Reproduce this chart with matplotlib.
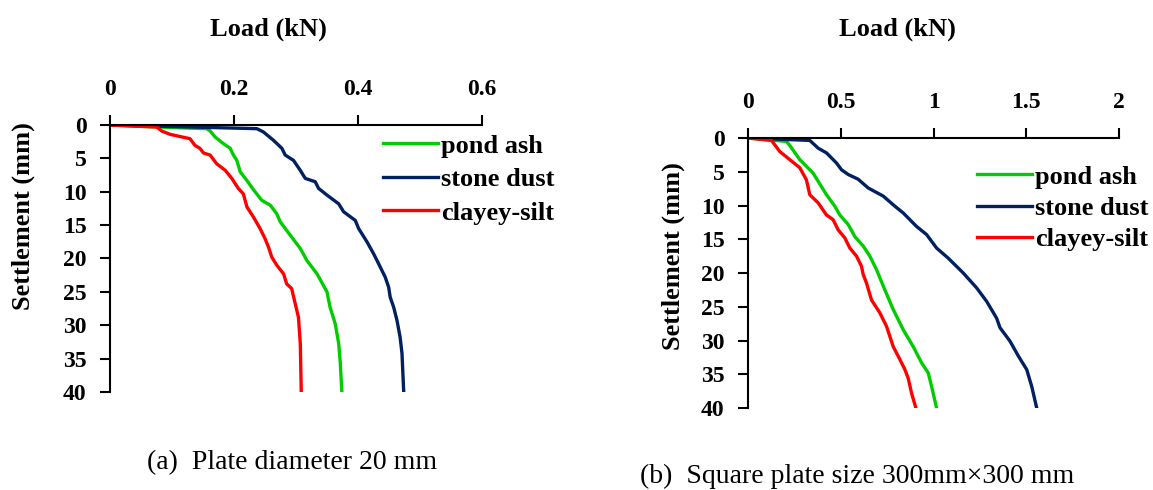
import matplotlib
matplotlib.use('Agg')
import matplotlib.pyplot as plt

# ---- data (load kN, settlement mm) ----
# (a) plate diameter 20 mm
a_pond_load = [0, 0.075, 0.156, 0.1615, 0.1696, 0.183, 0.194, 0.199, 0.2046, 0.210, 0.2207,
               0.2315, 0.245, 0.2584, 0.269, 0.2746, 0.2907, 0.307, 0.3176, 0.334, 0.350,
               0.355, 0.3634, 0.369, 0.3715, 0.374]
a_pond_set = [0, 0.3, 0.55, 0.9, 1.8, 2.8, 3.5, 4.5, 5.3, 7.0, 8.3,
              9.7, 11.3, 12.0, 13.3, 14.5, 16.5, 18.5, 20.3, 22.3, 25.0,
              27.3, 29.8, 32.8, 35.7, 40]

a_stone_load = [0, 0.2369, 0.2476, 0.2638, 0.2773, 0.2826, 0.296, 0.307, 0.315, 0.331, 0.3365,
                0.350, 0.3688, 0.3769, 0.3957, 0.401, 0.4145, 0.4253, 0.4334, 0.444, 0.4495,
                0.452, 0.4576, 0.463, 0.468, 0.471, 0.4738]
a_stone_set = [0, 0.55, 1.05, 2.3, 3.5, 4.5, 5.3, 6.8, 8.0, 8.5, 9.5,
               10.5, 11.8, 13.0, 14.3, 15.5, 17.5, 19.3, 20.8, 22.8, 24.3,
               25.8, 27.3, 29.3, 31.8, 34.2, 40]

a_clay_load = [0, 0.0754, 0.0834, 0.0969, 0.129, 0.137, 0.145, 0.151, 0.1615, 0.172, 0.186,
               0.1965, 0.207, 0.215, 0.221, 0.2315, 0.242, 0.250, 0.2557, 0.261, 0.269,
               0.280, 0.285, 0.293, 0.304, 0.307, 0.3085]
a_clay_set = [0, 0.3, 0.9, 1.4, 2.05, 3.05, 3.5, 4.2, 4.5, 5.8, 6.8,
              8.0, 9.5, 10.3, 12.3, 13.8, 15.5, 17.0, 18.3, 19.8, 21.0,
              22.3, 23.8, 24.5, 28.8, 32.8, 40]

# (b) square plate 300mm x 300mm
b_pond_load = [0, 0.2068, 0.2248, 0.2788, 0.3507, 0.3777, 0.4227, 0.4676, 0.4946, 0.5396,
               0.5755, 0.6205, 0.6565, 0.6924, 0.7374, 0.7824, 0.8363, 0.8903, 0.9353,
               0.9712, 0.9892, 1.0162]
b_pond_set = [0, 0.5, 1.1, 3.2, 5.2, 6.4, 8.4, 10.1, 11.4, 12.8,
              14.6, 16.0, 17.5, 19.5, 22.5, 25.4, 28.4, 30.9, 33.3,
              34.8, 36.8, 40]

b_stone_load = [0, 0.3327, 0.3777, 0.4227, 0.4766, 0.5036, 0.5396, 0.5935, 0.6475, 0.7284,
                0.7914, 0.8363, 0.9083, 0.9622, 1.0162, 1.079, 1.160, 1.232, 1.286, 1.340,
                1.358, 1.412, 1.457, 1.502, 1.529, 1.556]
b_stone_set = [0, 0.35, 1.5, 2.2, 3.7, 4.7, 5.4, 6.1, 7.4, 8.6,
               10.1, 11.1, 13.1, 14.3, 16.3, 17.8, 20.0, 22.2, 24.2, 26.7,
               28.1, 30.1, 32.3, 34.3, 36.8, 40]

b_clay_load = [0, 0.1259, 0.1439, 0.1709, 0.2158, 0.2788, 0.3147, 0.3327, 0.3777, 0.4227,
               0.4586, 0.4856, 0.5216, 0.5486, 0.5845, 0.6115, 0.6205, 0.6385, 0.6655,
               0.7104, 0.7464, 0.7824, 0.8183, 0.8453, 0.8633, 0.8813, 0.9047]
b_clay_set = [0, 0.35, 1.0, 2.0, 3.0, 4.4, 6.2, 8.4, 9.6, 11.4,
              12.1, 13.6, 14.8, 16.3, 17.5, 19.0, 20.2, 21.5, 24.0,
              25.9, 27.9, 30.9, 32.8, 34.3, 35.6, 37.8, 40]

a_xticks = [0, 0.2, 0.4, 0.6]
a_xlabels = ['0', '0.2', '0.4', '0.6']
b_xticks = [0, 0.5, 1, 1.5, 2]
b_xlabels = ['0', '0.5', '1', '1.5', '2']
yticks = [0, 5, 10, 15, 20, 25, 30, 35, 40]

GREEN = '#00cc00'
NAVY = '#002060'
RED = '#ff0000'

plt.rcParams['font.family'] = ['Liberation Serif', 'DejaVu Serif']
plt.rcParams['font.weight'] = 'bold'

fig = plt.figure(figsize=(11.53, 4.9), dpi=100)
ax1 = fig.add_axes([0.0954, 0.2, 0.3226, 0.5449])
ax2 = fig.add_axes([0.6488, 0.1673, 0.3218, 0.551])


def style(ax, xticks, xlabels, xmax, xlab_xy, ylab_xy):
    ax.set_xlim(0, xmax)
    ax.set_ylim(40, 0)
    ax.xaxis.tick_top()
    ax.xaxis.set_label_position('top')
    ax.set_xticks(xticks)
    ax.set_xticklabels(xlabels)
    ax.set_yticks(yticks)
    for s in ['right', 'bottom']:
        ax.spines[s].set_visible(False)
    for s in ['left', 'top']:
        ax.spines[s].set_linewidth(1.5)
        ax.spines[s].set_color('black')
    ax.tick_params(direction='out', length=7, width=1.5, labelsize=17)
    ax.tick_params(axis='x', pad=11)
    ax.tick_params(axis='y', pad=10)
    for t in ax.get_xticklabels() + ax.get_yticklabels():
        t.set_fontweight('bold')
    ax.set_xlabel('Load (kN)', fontsize=19, fontweight='bold', va='center')
    ax.set_ylabel('Settlement (mm)', fontsize=19, fontweight='bold', va='center')
    ax.xaxis.set_label_coords(*xlab_xy)
    ax.yaxis.set_label_coords(*ylab_xy)


leg_kw = dict(loc='upper left', frameon=False,
              prop={'family': 'Liberation Serif', 'weight': 'bold', 'size': 19},
              handlelength=2.1, handletextpad=0.1,
              borderpad=0, borderaxespad=0)

ax1.plot(a_pond_load, a_pond_set, color=GREEN, lw=2.4, label='pond ash')
ax1.plot(a_stone_load, a_stone_set, color=NAVY, lw=2.4, label='stone dust')
ax1.plot(a_clay_load, a_clay_set, color=RED, lw=2.4, label='clayey-silt')
style(ax1, a_xticks, a_xlabels, 0.6, (0.425, 1.36), (-0.234, 0.659))
ax1.legend(bbox_to_anchor=(0.734, 0.966), labelspacing=0.38, **leg_kw)

ax2.plot(b_pond_load, b_pond_set, color=GREEN, lw=2.4, label='pond ash')
ax2.plot(b_stone_load, b_stone_set, color=NAVY, lw=2.4, label='stone dust')
ax2.plot(b_clay_load, b_clay_set, color=RED, lw=2.4, label='clayey-silt')
style(ax2, b_xticks, b_xlabels, 2, (0.4016, 1.404), (-0.202, 0.563))
ax2.legend(bbox_to_anchor=(0.617, 0.90), labelspacing=0.3, **leg_kw)

fig.text(147 / 1153, 1 - 463 / 490, '(a)  Plate diameter 20 mm', fontsize=20,
         fontweight='normal', ha='left', va='center')
fig.text(640 / 1153, 1 - 476 / 490, '(b)  Square plate size 300mm\u00d7300 mm', fontsize=20,
         fontweight='normal', ha='left', va='center')

fig.savefig('out.png', dpi=100)
